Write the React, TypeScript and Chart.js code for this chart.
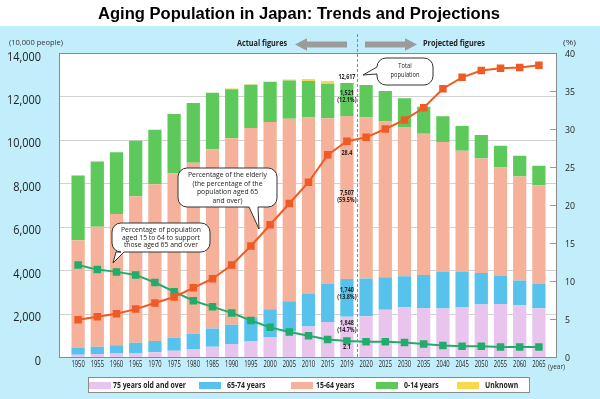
import React, { useEffect, useRef } from "react";
import { Chart, registerables } from "chart.js";
Chart.register(...registerables);

// ---------- data ----------
const years = [
  "1950", "1955", "1960", "1965", "1970", "1975", "1980", "1985", "1990", "1995",
  "2000", "2005", "2010", "2015", "2019", "2020", "2025", "2030", "2035", "2040",
  "2045", "2050", "2055", "2060", "2065",
];
const age75Plus = [107, 139, 163, 189, 224, 284, 366, 471, 597, 717, 900, 1160, 1407, 1613, 1848, 1872, 2180, 2288, 2260, 2239, 2277, 2417, 2446, 2387, 2248];
const age65to74 = [309, 338, 375, 472, 516, 602, 699, 847, 892, 1109, 1301, 1407, 1517, 1752, 1740, 1747, 1497, 1428, 1522, 1681, 1642, 1454, 1284, 1133, 1133];
const age15to64 = [4966, 5517, 6047, 6744, 7212, 7581, 7883, 8251, 8590, 8716, 8622, 8409, 8103, 7629, 7507, 7406, 7170, 6875, 6494, 5978, 5584, 5275, 4992, 4793, 4529];
const age0to14 = [2979, 3012, 2843, 2553, 2515, 2722, 2751, 2603, 2249, 2001, 1847, 1752, 1680, 1589, 1521, 1507, 1407, 1321, 1246, 1194, 1138, 1077, 1012, 951, 898];
const ageUnknown = [0, 0, 0, 0, 0, 0, 0, 0, 33, 14, 23, 49, 99, 127, 0, 0, 0, 0, 0, 0, 0, 0, 0, 0, 0];
const elderlyPct = [4.9, 5.3, 5.7, 6.3, 7.1, 7.9, 9.1, 10.3, 12.1, 14.6, 17.4, 20.2, 23.0, 26.6, 28.4, 28.9, 30.0, 31.2, 32.8, 35.3, 36.8, 37.7, 38.0, 38.1, 38.4];
const supportRatio = [12.1, 11.5, 11.2, 10.8, 9.8, 8.6, 7.4, 6.6, 5.8, 4.8, 3.9, 3.3, 2.8, 2.3, 2.1, 2.0, 2.0, 1.9, 1.7, 1.5, 1.4, 1.4, 1.3, 1.3, 1.3];

const leftMax = 14000;
const leftStep = 2000;
const rightMax = 40;
const rightStep = 5;

const seriesNames = ["75 years old and over", "65-74 years", "15-64 years", "0-14 years", "Unknown"];
const seriesColors = ["#e9c4ec", "#57c2ec", "#f6b19b", "#5ec95b", "#f8d84c"];

// labels written on the 2019 bar
const highlightIndex = 14;
const labelTotal = "12,617";
const label0to14 = ["1,521", "(12.1%)"];
const label15to64 = ["7,507", "(59.5%)"];
const label65to74 = ["1,740", "(13.8%)"];
const label75Plus = ["1,848", "(14.7%)"];
const labelElderly = "28.4";
const labelSupport = "2.1";

const FONT = '"Open Sans", "Noto Sans", sans-serif';

function setFont(ctx: CanvasRenderingContext2D, size: number, weight: string, family: string) {
  ctx.font = `${weight} ${size}px ${family}`;
}

function measure(ctx: CanvasRenderingContext2D, s: string, size: number, weight = "normal", family = FONT) {
  ctx.save();
  setFont(ctx, size, weight, family);
  const w = ctx.measureText(s).width;
  ctx.restore();
  return w;
}

function drawText(ctx: CanvasRenderingContext2D, s: string, x: number, y: number, o: any = {}) {
  const size = o.size ?? 8;
  const weight = o.weight ?? "normal";
  const family = o.family ?? FONT;
  ctx.save();
  setFont(ctx, size, weight, family);
  ctx.fillStyle = o.color ?? "#222";
  ctx.textBaseline = "middle";
  ctx.textAlign = o.align ?? "left";
  let sx = o.sx ?? 1;
  if (o.w) sx = o.w / ctx.measureText(s).width;
  ctx.translate(x, y);
  ctx.scale(sx, 1);
  ctx.fillText(s, 0, 0);
  ctx.restore();
}

function bubble(ctx: CanvasRenderingContext2D, x: number, y: number, w: number, h: number, r: number, tail: any) {
  ctx.save();
  ctx.beginPath();
  ctx.moveTo(x + r, y);
  ctx.lineTo(x + w - r, y);
  ctx.arcTo(x + w, y, x + w, y + r, r);
  ctx.lineTo(x + w, y + h - r);
  ctx.arcTo(x + w, y + h, x + w - r, y + h, r);
  if (tail.side === "bottom") {
    ctx.lineTo(tail.b, y + h);
    ctx.lineTo(tail.tx, tail.ty);
    ctx.lineTo(tail.a, y + h);
  }
  ctx.lineTo(x + r, y + h);
  ctx.arcTo(x, y + h, x, y + h - r, r);
  if (tail.side === "left") {
    ctx.lineTo(x, tail.b);
    ctx.lineTo(tail.tx, tail.ty);
    ctx.lineTo(x, tail.a);
  }
  ctx.lineTo(x, y + r);
  ctx.arcTo(x, y, x + r, y, r);
  ctx.closePath();
  ctx.fillStyle = "#ffffff";
  ctx.fill();
  ctx.strokeStyle = "#333333";
  ctx.lineWidth = 1;
  ctx.stroke();
  ctx.restore();
}

function arrow(ctx: CanvasRenderingContext2D, x0: number, x1: number, y: number, dir: number) {
  // dir -1: pointing left (tip at x0), +1: pointing right (tip at x1)
  const head = 12, hh = 6.2, bh = 3;
  ctx.save();
  ctx.fillStyle = "#9b9b9b";
  ctx.beginPath();
  if (dir < 0) {
    ctx.moveTo(x0, y);
    ctx.lineTo(x0 + head, y - hh);
    ctx.lineTo(x0 + head, y - bh);
    ctx.lineTo(x1, y - bh);
    ctx.lineTo(x1, y + bh);
    ctx.lineTo(x0 + head, y + bh);
    ctx.lineTo(x0 + head, y + hh);
  } else {
    ctx.moveTo(x1, y);
    ctx.lineTo(x1 - head, y - hh);
    ctx.lineTo(x1 - head, y - bh);
    ctx.lineTo(x0, y - bh);
    ctx.lineTo(x0, y + bh);
    ctx.lineTo(x1 - head, y + bh);
    ctx.lineTo(x1 - head, y + hh);
  }
  ctx.closePath();
  ctx.fill();
  ctx.restore();
}

const decorPlugin = {
  id: "decor",
  beforeDraw(chart: any) {
    const { ctx, chartArea: ca, scales } = chart;
    const y = scales.y;
    const y1 = scales.y1;
    const bx0 = ca.left - 9.5;
    const bx1 = ca.right + 8.5;
    ctx.save();
    ctx.fillStyle = "#ffffff";
    ctx.fillRect(0, 0, chart.width, chart.height);
    ctx.fillStyle = "#c2eefc";
    ctx.fillRect(0, 26, chart.width, chart.height - 26);
    // plot box
    ctx.fillStyle = "#ffffff";
    ctx.fillRect(bx0, ca.top, bx1 - bx0, ca.bottom - ca.top);
    // gridlines
    ctx.strokeStyle = "#d2d2d2";
    ctx.lineWidth = 1;
    for (const t of y.ticks) {
      if (t.value <= 0 || t.value >= leftMax) continue;
      const py = Math.round(y.getPixelForValue(t.value)) + 0.5;
      ctx.beginPath();
      ctx.moveTo(bx0, py);
      ctx.lineTo(bx1, py);
      ctx.stroke();
    }
    // right axis tick dashes
    ctx.strokeStyle = "#9a9a9a";
    for (const t of y1.ticks) {
      if (t.value <= 0 || t.value >= rightMax) continue;
      const py = Math.round(y1.getPixelForValue(t.value)) + 0.5;
      ctx.beginPath();
      ctx.moveTo(bx1 - 7, py);
      ctx.lineTo(bx1 - 1, py);
      ctx.stroke();
    }
    ctx.strokeStyle = "#8a8a8a";
    ctx.strokeRect(Math.round(bx0) + 0.5, Math.round(ca.top) + 0.5, Math.round(bx1 - bx0) - 1, Math.round(ca.bottom - ca.top));
    ctx.restore();
  },
  afterDraw(chart: any) {
    const { ctx, chartArea: ca, scales } = chart;
    const x = scales.x;
    const y = scales.y;
    const y1 = scales.y1;
    const bx1 = ca.right + 8.5;

    // title
    drawText(ctx, "Aging Population in Japan: Trends and Projections", 299, 14.5, {
      size: 16, weight: "bold", family: '"Liberation Sans", Arial, sans-serif', align: "center", color: "#000", w: 402,
    });

    // axis units
    drawText(ctx, "(10,000 people)", 9, 42.5, { size: 8, w: 54, color: "#333" });
    drawText(ctx, "(%)", 563, 42.5, { size: 8, w: 13, color: "#333" });

    // left tick labels
    const lsx = 34 / measure(ctx, "14,000", 12.5);
    for (const t of y.ticks) {
      const py = y.getPixelForValue(t.value) + 4;
      drawText(ctx, t.value.toLocaleString("en-US"), 41, py, { size: 12.5, sx: lsx, align: "right", color: "#222" });
    }
    // right tick labels
    const rsx = 10 / measure(ctx, "40", 9.5);
    for (const t of y1.ticks) {
      const py = y1.getPixelForValue(t.value) + 1;
      drawText(ctx, String(t.value), 565, py, { size: 9.5, sx: rsx, color: "#222" });
    }
    // x labels
    const xsx = 13.3 / measure(ctx, "1950", 8.5);
    years.forEach((yr, i) => {
      drawText(ctx, yr, x.getPixelForValue(i), 365, { size: 8.5, sx: xsx, align: "center", color: "#222" });
    });
    drawText(ctx, "(year)", 548, 366.5, { size: 7, w: 17, color: "#333" });

    // actual / projected divider
    const divX = Math.round((x.getPixelForValue(highlightIndex) + x.getPixelForValue(highlightIndex + 1)) / 2) + 0.5;
    ctx.save();
    ctx.strokeStyle = "#8c8c8c";
    ctx.lineWidth = 1;
    ctx.setLineDash([3, 2]);
    ctx.beginPath();
    ctx.moveTo(divX, 34);
    ctx.lineTo(divX, ca.bottom);
    ctx.stroke();
    ctx.restore();
    drawText(ctx, "Actual figures", 287, 44, { size: 8.5, weight: "bold", w: 50, align: "right", color: "#222" });
    arrow(ctx, 295, 347, 44.5, -1);
    arrow(ctx, 365, 417, 44.5, 1);
    drawText(ctx, "Projected figures", 423, 44, { size: 8.5, weight: "bold", w: 62, color: "#222" });

    // values on the 2019 bar
    const hx = x.getPixelForValue(highlightIndex);
    const i = highlightIndex;
    const top75 = y.getPixelForValue(age75Plus[i]);
    const top65 = y.getPixelForValue(age75Plus[i] + age65to74[i]);
    const top15 = y.getPixelForValue(age75Plus[i] + age65to74[i] + age15to64[i]);
    const top0 = y.getPixelForValue(age75Plus[i] + age65to74[i] + age15to64[i] + age0to14[i]);
    const vsx = 17 / measure(ctx, "12,617", 7, "bold");
    const lab = (s: string, py: number) => drawText(ctx, s, hx, py, { size: 7, weight: "bold", sx: vsx, align: "center", color: "#222" });
    lab(labelTotal, top0 - 6);
    lab(label0to14[0], top0 + 10);
    lab(label0to14[1], top0 + 17);
    lab(labelElderly, y1.getPixelForValue(elderlyPct[i]) + 12);
    lab(label15to64[0], top15 + 77);
    lab(label15to64[1], top15 + 84);
    lab(label65to74[0], top65 + 11);
    lab(label65to74[1], top65 + 18);
    lab(label75Plus[0], top75 + 6);
    lab(label75Plus[1], top75 + 13);
    lab(labelSupport, y1.getPixelForValue(supportRatio[i]) + 6);

    // callouts
    bubble(ctx, 377, 58, 56, 27, 9, { side: "left", a: 67, b: 74, tx: 363, ty: 75 });
    const b1 = 29 / measure(ctx, "population", 8);
    drawText(ctx, "Total", 405, 66, { size: 8, sx: b1, align: "center" });
    drawText(ctx, "population", 405, 74.5, { size: 8, sx: b1, align: "center" });

    bubble(ctx, 178, 168, 99, 39, 9, { side: "bottom", a: 249, b: 258, tx: 259, ty: 229 });
    const b2 = 79 / measure(ctx, "Percentage of the elderly", 8);
    ["Percentage of the elderly", "(the percentage of the", "population aged 65", "and over)"].forEach((s, k) =>
      drawText(ctx, s, 227.5, 175 + k * 8.5, { size: 8, sx: b2, align: "center" })
    );

    bubble(ctx, 112, 223, 98, 29, 9, { side: "bottom", a: 116, b: 124, tx: 113, ty: 263 });
    const b3 = 80 / measure(ctx, "Percentage of population", 8);
    ["Percentage of population", "aged 15 to 64 to support", "those aged 65 and over"].forEach((s, k) =>
      drawText(ctx, s, 161, 229.5 + k * 7.8, { size: 8, sx: b3, align: "center" })
    );

    // legend
    ctx.save();
    ctx.fillStyle = "#ffffff";
    ctx.fillRect(88, 377, 442, 16);
    ctx.strokeStyle = "#8a8a8a";
    ctx.lineWidth = 1;
    ctx.strokeRect(88.5, 377.5, 441, 15);
    ctx.restore();
    const swX = [89, 199, 291, 376, 457];
    const txX = [113, 227, 316, 404, 485];
    const lsxL = 73 / measure(ctx, seriesNames[0], 9, "bold");
    seriesNames.forEach((n, k) => {
      ctx.fillStyle = seriesColors[k];
      ctx.fillRect(swX[k], 382, 22, 7);
      drawText(ctx, n, txX[k], 385.5, { size: 9, weight: "bold", sx: lsxL, color: "#222" });
    });
    void bx1;
  },
};

export default function App() {
  const ref = useRef<HTMLCanvasElement>(null);
  useEffect(() => {
    const canvas = ref.current;
    if (!canvas) return;
    const seriesData = [age75Plus, age65to74, age15to64, age0to14, ageUnknown];
    const barSets = seriesData.map((d, k) => ({
      type: "bar" as const,
      label: seriesNames[k],
      data: d,
      backgroundColor: seriesColors[k],
      borderWidth: 0,
      barPercentage: 0.69,
      categoryPercentage: 1,
      yAxisID: "y",
      stack: "pop",
      order: 2,
    }));
    const chart = new Chart(canvas, {
      type: "bar",
      data: {
        labels: years,
        datasets: [
          ...barSets,
          {
            type: "line" as const,
            label: "Percentage of the elderly",
            data: elderlyPct,
            yAxisID: "y1",
            borderColor: "#f05a24",
            backgroundColor: "#f05a24",
            borderWidth: 2,
            pointStyle: "rect",
            pointRadius: 5.3,
            pointBorderWidth: 0,
            tension: 0,
            order: 0,
          },
          {
            type: "line" as const,
            label: "Support ratio",
            data: supportRatio,
            yAxisID: "y1",
            borderColor: "#20ad6c",
            backgroundColor: "#20ad6c",
            borderWidth: 2,
            pointStyle: "rect",
            pointRadius: 5.3,
            pointBorderWidth: 0,
            tension: 0,
            order: 0,
          },
        ] as any,
      },
      options: {
        responsive: false,
        animation: false,
        devicePixelRatio: 1,
        events: [],
        layout: { padding: { top: 53, left: 0, right: 0, bottom: 0 } },
        plugins: {
          legend: { display: false },
          title: { display: false },
          tooltip: { enabled: false },
        },
        scales: {
          x: {
            stacked: true,
            offset: true,
            grid: { display: false },
            border: { display: false },
            ticks: { display: false },
            afterFit: (s: any) => { s.height = 42; },
          },
          y: {
            stacked: true,
            position: "left",
            min: 0,
            max: leftMax,
            ticks: { display: false, stepSize: leftStep },
            grid: { display: false },
            border: { display: false },
            afterFit: (s: any) => { s.width = 68.5; },
          },
          y1: {
            position: "right",
            min: 0,
            max: rightMax,
            ticks: { display: false, stepSize: rightStep },
            grid: { display: false },
            border: { display: false },
            afterFit: (s: any) => { s.width = 51.5; },
          },
        },
      } as any,
      plugins: [decorPlugin],
    });
    return () => chart.destroy();
  }, []);
  return (
    <div style={{ position: "absolute", left: 0, top: 0, width: 600, height: 399 }}>
      <canvas ref={ref} width={600} height={399} style={{ display: "block", width: 600, height: 399 }} />
    </div>
  );
}
